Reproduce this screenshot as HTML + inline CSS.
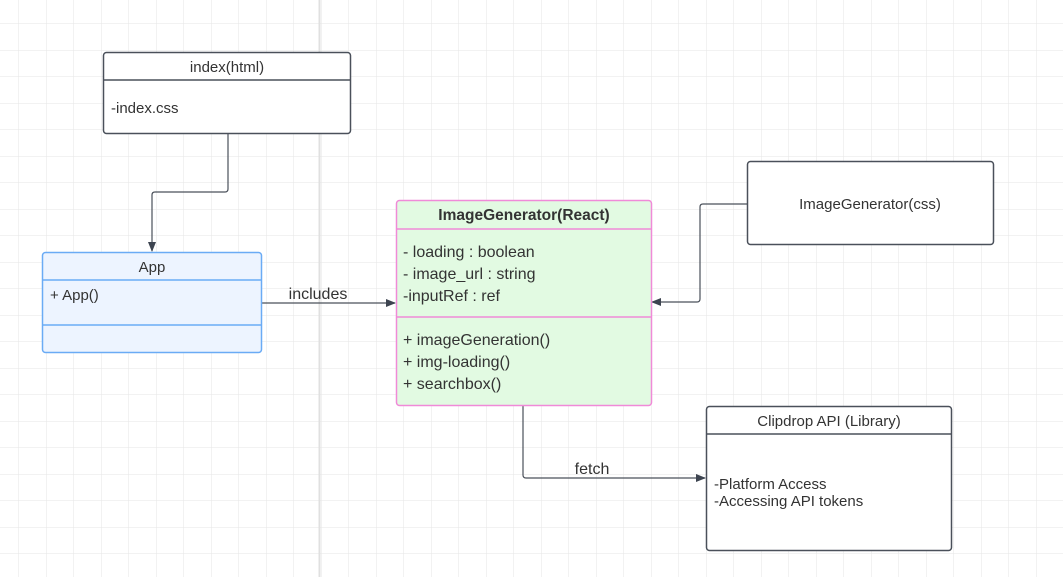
<!DOCTYPE html>
<html><head><meta charset="utf-8"><style>
html,body{margin:0;padding:0;background:#fff}
svg{display:block}
text{font-family:"Liberation Sans",sans-serif;fill:#333}
</style></head><body>
<svg width="1063" height="577" viewBox="0 0 1063 577" xmlns="http://www.w3.org/2000/svg">
<defs>
<pattern id="g" x="-9" y="-3" width="27.5" height="26.5" patternUnits="userSpaceOnUse">
<path d="M0 0H27.5M0 0V26.5" stroke="#e6e6e6" stroke-width="1" fill="none"/>
</pattern>
<marker id="a" markerWidth="10" markerHeight="8" refX="9" refY="4" orient="auto" markerUnits="userSpaceOnUse">
<path d="M0 0L10 4L0 8Z" fill="#3d4450"/>
</marker>
</defs>
<rect width="1063" height="577" fill="url(#g)"/>
<line x1="319.5" y1="0" x2="319.5" y2="577" stroke="#e0e0e0" stroke-width="2"/>

<g fill="none" stroke="#4a505a" stroke-width="1.2">
<path d="M228 133V189Q228 192 225 192H155Q152 192 152 195V251" marker-end="url(#a)"/>
<path d="M261 303H395" marker-end="url(#a)"/>
<path d="M747 204H703Q700 204 700 207V299Q700 302 697 302H652" marker-end="url(#a)"/>
<path d="M523 405V475Q523 478 526 478H705" marker-end="url(#a)"/>
</g>
<text x="318" y="299" font-size="16" text-anchor="middle">includes</text>
<text x="592" y="474" font-size="16" text-anchor="middle">fetch</text>

<rect x="103.5" y="52.5" width="247" height="81" rx="3" fill="#fff" stroke="#4a505a" stroke-width="1.5"/>
<line x1="103.5" y1="80" x2="350.5" y2="80" stroke="#4a505a" stroke-width="1.5"/>
<text x="227" y="72" font-size="15" text-anchor="middle">index(html)</text>
<text x="111" y="113" font-size="15">-index.css</text>

<rect x="42.5" y="252.5" width="219" height="100" rx="3" fill="#edf4ff" stroke="#6aabf5" stroke-width="1.5"/>
<line x1="42.5" y1="280" x2="261.5" y2="280" stroke="#6aabf5" stroke-width="1.5"/>
<line x1="42.5" y1="325" x2="261.5" y2="325" stroke="#6aabf5" stroke-width="1.5"/>
<text x="152" y="272" font-size="15" text-anchor="middle">App</text>
<text x="50" y="300" font-size="15">+ App()</text>

<rect x="396.5" y="200.5" width="255" height="205" rx="3" fill="#e2fae2" stroke="#f08ad8" stroke-width="1.5"/>
<line x1="396.5" y1="229" x2="651.5" y2="229" stroke="#f08ad8" stroke-width="1.5"/>
<line x1="396.5" y1="317" x2="651.5" y2="317" stroke="#f08ad8" stroke-width="1.5"/>
<text x="524" y="220" font-size="15.5" font-weight="bold" text-anchor="middle">ImageGenerator(React)</text>
<text x="403" y="257" font-size="16">- loading : boolean</text>
<text x="403" y="279" font-size="16">- image_url : string</text>
<text x="403" y="301" font-size="16">-inputRef :  ref</text>
<text x="403" y="345" font-size="16">+ imageGeneration()</text>
<text x="403" y="367" font-size="16">+ img-loading()</text>
<text x="403" y="389" font-size="16">+ searchbox()</text>

<rect x="747.5" y="161.5" width="246" height="83" rx="3" fill="#fff" stroke="#4a505a" stroke-width="1.5"/>
<text x="870" y="209" font-size="15" text-anchor="middle">ImageGenerator(css)</text>

<rect x="706.5" y="406.5" width="245" height="144" rx="3" fill="#fff" stroke="#4a505a" stroke-width="1.5"/>
<line x1="706.5" y1="434" x2="951.5" y2="434" stroke="#4a505a" stroke-width="1.5"/>
<text x="829" y="426" font-size="15" text-anchor="middle">Clipdrop API (Library)</text>
<text x="714" y="489" font-size="15">-Platform Access</text>
<text x="714" y="506" font-size="15">-Accessing API tokens</text>
</svg>
</body></html>
